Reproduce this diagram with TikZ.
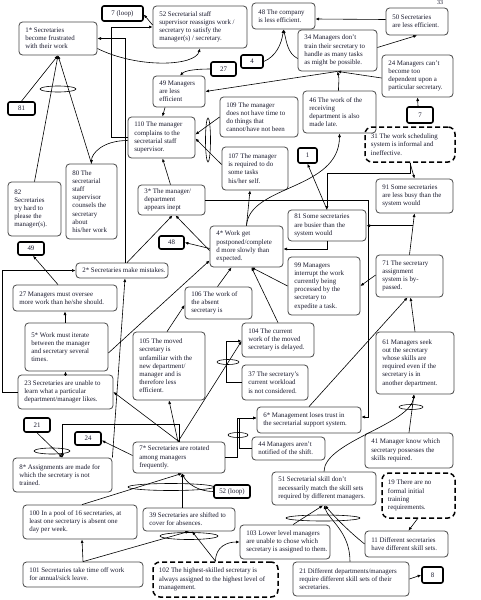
\documentclass[tikz,border=0pt]{standalone}
\usepackage{fontspec}
\setmainfont{Liberation Serif}
\usetikzlibrary{arrows.meta,calc,shapes.geometric}
\definecolor{boxc}{RGB}{70,70,70}
\definecolor{txt}{RGB}{25,25,45}
\newcommand\fs{\fontsize{6.9}{8.2}\selectfont}
\newcommand\bx[7][box]{%
  \pgfmathsetmacro\bxw{#5-#3}%
  \pgfmathsetmacro\bxh{#6-#4}%
  \pgfmathsetmacro\bxcx{(#3+#5)/2}%
  \pgfmathsetmacro\bxcy{(#4+#6)/2}%
  \node[#1,minimum width=\bxw pt,minimum height=\bxh pt] (#2) at (\bxcx,\bxcy) {};
  \node[txtst] (#2t) at ([xshift=6.5pt]#2.west) {#7};}
\newcommand\lb[6]{%
  \pgfmathsetmacro\bxw{#4-#2}%
  \pgfmathsetmacro\bxh{#5-#3}%
  \pgfmathsetmacro\bxcx{(#2+#4)/2}%
  \pgfmathsetmacro\bxcy{(#3+#5)/2}%
  \node[lab,minimum width=\bxw pt,minimum height=\bxh pt] (#1) at (\bxcx,\bxcy) {#6};}
\begin{document}
\begin{tikzpicture}[x=1pt,y=-1pt,
  box/.style={draw=boxc, line width=0.8pt, rounded corners=3.5pt, inner sep=0pt},
  txtst/.style={anchor=west, align=left, inner sep=0pt, font=\fs, text=txt},
  lab/.style={draw=black, line width=1.6pt, rounded corners=2pt, align=center, font=\fs, inner sep=0pt, text=txt},
  dbox/.style={box, draw=black, line width=1.5pt, dash pattern=on 5pt off 3pt, rounded corners=7pt},
  arr/.style={draw=black, line width=0.6pt, -{Latex[length=3.6pt,width=3pt]}},
  grp/.style={draw=black, line width=0.6pt, ellipse, inner sep=0pt}]
\useasboundingbox (0,0) rectangle (481,600);
\node[font=\fontsize{6}{7}\selectfont, text=txt, inner sep=0pt, anchor=north] (pg) at (440,0.5) {33};
% boxes
\lb{l7loop}{102}{6}{143}{21}{7 (loop)}
\bx{n52}{153}{6}{247}{48}{52 Secretarial staff\\supervisor reassigns work /\\secretary to satisfy the\\manager(s) / secretary.}
\bx{n48}{252}{3}{315}{29}{48 The company\\is less efficient.}
\bx{n50}{386}{8}{448}{35}{50 Secretaries\\are less efficient.}
\bx{n1s}{19}{22}{97}{55}{1* Secretaries\\become frustrated\\with their work}
\bx{n34}{298}{30}{377}{71}{34 Managers don't\\train their secretary to\\handle as many tasks\\as might be possible.}
\lb{l4}{241}{55}{263}{68}{4}
\lb{l27}{211}{62}{236}{76}{27}
\bx{n24}{382}{55}{453}{97}{24 Managers can't\\become too\\dependent upon a\\particular secretary.}
\bx{n49}{153}{76}{205}{107}{49 Managers\\are less\\efficient}
\lb{l81}{8}{102}{35}{115}{81}
\bx{n109}{220}{97}{298}{137}{109 The manager\\does not have time to\\do things that\\cannot/have not been}
\bx{n46}{303}{91}{376}{133}{46 The work of the\\receiving\\department is also\\made late.}
\lb{l7}{407}{107}{433}{123}{7}
\bx{n110}{128}{117}{195}{158}{110 The manager\\complains to the\\secretarial staff\\supervisor.}
\bx[dbox]{n31}{365}{127}{455}{162}{31 The work scheduling\\system is informal and\\ineffective.}
\bx{n107}{222}{147}{288}{190}{107 The manager\\is required to do\\some tasks\\his/her self.}
\lb{l1}{298}{148}{317}{163}{1}
\bx{n80}{66}{164}{117}{239}{80 The\\secretarial\\staff\\supervisor\\counsels the\\secretary\\about\\his/her work}
\bx{n82}{8}{182}{61}{236}{82\\Secretaries\\try hard to\\please the\\manager(s).}
\bx{n3s}{138}{185}{205}{215}{3* The manager/\\department\\appears inept}
\bx{n91}{376}{179}{453}{213}{91 Some secretaries\\are less busy than the\\system would}
\bx{n81}{288}{210}{366}{241}{81 Some secretaries\\are busier than the\\system would}
\bx{n4s}{210}{226}{283}{267}{4* Work get\\postponed/complete\\d more slowly than\\expected.}
\lb{l48}{159}{236}{184}{249}{48}
\lb{l49}{18}{242}{44}{255}{49}
\bx{n71}{376}{255}{443}{297}{71 The secretary\\assignment\\system is by-\\passed.}
\bx{n99}{288}{257}{360}{315}{99 Managers\\interrupt the work\\currently being\\processed by the\\secretary to\\expedite a task.}
\bx{n2s}{76}{263}{168}{278}{2* Secretaries make mistakes.}
\bx{n27}{13}{285}{117}{311}{27 Managers must oversee\\more work than he/she should.}
\bx{n106}{185}{287}{252}{319}{106 The work of\\the absent\\secretary is}
\bx{n5s}{25}{323}{108}{371}{5* Work must iterate\\between the manager\\and secretary several\\times.}
\bx{n104}{242}{323}{314}{357}{104 The current\\work of the moved\\secretary is delayed.}
\bx{n105}{133}{332}{205}{400}{105 The moved\\secretary is\\unfamiliar with the\\new department/\\manager and is\\therefore less\\efficient.}
\bx{n61}{376}{332}{454}{394}{61 Managers seek\\out the secretary\\whose skills are\\required even if the\\secretary is in\\another department.}
\bx{n37}{242}{365}{308}{400}{37 The secretary's\\current workload\\is not considered.}
\bx{n23}{18}{375}{113}{409}{23 Secretaries are unable to\\learn what a particular\\department/manager likes.}
\bx{n6s}{257}{407}{361}{433}{6* Management loses trust in\\the secretarial support system.}
\lb{l21}{24}{418}{50}{432}{21}
\lb{l24}{75}{432}{101}{445}{24}
\bx{n41}{365}{433}{453}{468}{41 Manager know which\\secretary possesses the\\skills required.}
\bx{n44}{252}{437}{325}{460}{44 Managers aren't\\notified of the shift.}
\bx{n7s}{133}{442}{225}{473}{7* Secretaries are rotated\\among managers\\frequently.}
\bx{n8s}{13}{458}{112}{492}{8* Assignments are made for\\which the secretary is not\\trained.}
\bx{n51}{272}{472}{376}{505}{51 Secretarial skill don't\\necessarily match the skill sets\\required by different managers.}
\bx[dbox]{n19}{382}{473}{455}{518}{19 There are no\\formal initial\\training\\requirements.}
\lb{l52}{214}{485}{250}{498}{52 (loop)}
\bx{n100}{23}{505}{137}{539}{100 In a pool of 16 secretaries, at\\least one secretary is absent one\\day per week.}
\bx{n39}{143}{508}{235}{531}{39 Secretaries are shifted to\\cover for absences.}
\bx{n103}{240}{525}{330}{559}{103 Lower level managers\\are unable to chose which\\secretary is assigned to them.}
\bx{n11}{365}{531}{448}{557}{11 Different secretaries\\have different skill sets.}
\bx{n101}{23}{562}{143}{587}{101 Secretaries take time off work\\for annual/sick leave.}
\bx[dbox]{n102}{153}{562}{278}{597}{102 The highest-skilled secretary is\\always assigned to the highest level of\\management.}
\bx{n21}{293}{562}{409}{596}{21 Different departments/managers\\require different skill sets of their\\secretaries.}
\lb{l8}{422}{567}{443}{583}{8}
% group ellipses
\node[grp, minimum width=36pt, minimum height=6pt] (e1) at (58,89) {};
\node[grp, minimum width=5pt, minimum height=44pt] (e2) at (208,140) {};
\node[grp, minimum width=22pt, minimum height=5pt] (e3) at (228,362) {};
\node[grp, minimum width=36pt, minimum height=6pt] (e4) at (52,451) {};
\node[grp, minimum width=20pt, minimum height=5pt] (e5) at (238,435) {};
\node[grp, minimum width=24pt, minimum height=5pt] (e6) at (411,407) {};
\node[grp, minimum width=74pt, minimum height=6pt] (e7) at (323,518) {};
\node[grp, minimum width=58pt, minimum height=7pt] (e8) at (189,536) {};
\node[grp, minimum width=86pt, minimum height=7pt] (e9) at (171,487) {};
% connectors
\draw[arr] ([yshift=2pt]n52.west) -- ([yshift=-1pt]l7loop.east);
\draw[arr] (n110.west) -- ++(-16,0) |- (n52.west);
\draw[arr] ([xshift=3pt]n2s.north) |- (n1s.east);
\draw[arr] ([yshift=-10pt]n1s.east) .. controls +(40,20) and +(-5,18) .. (n52.south);
\draw[arr] (n82.north) -- (n1s.south);
\draw[arr] (n80.north) -- (n1s.south);
\draw[arr] (l81.north) -- (n1s.south);
\draw[arr] ([yshift=-3pt]n110.west) .. controls +(-25,0) and +(0,-10) .. (n80.north);
\draw[arr] ([xshift=-14pt]n49.south) -- ([xshift=1pt]n110.north);
\draw[arr] (n109.west) -- ([yshift=3pt]n110.east);
\draw[arr] ([yshift=4pt]n107.west) -- ([yshift=-1pt]n110.east);
\draw[arr] ([xshift=-1pt]n3s.north) -- ([xshift=1pt]n110.south);
\draw[arr] ([yshift=2pt]n50.west) -- ([yshift=-3pt]n48.east);
\draw[arr] ([yshift=3pt]n34.east) -- (n50.south);
\draw[arr] ([yshift=-2pt]n24.west) -- (n34.south);
\draw[arr] (n34.south) -- (n49.east);
\draw[arr] ([xshift=-1pt]n46.north) .. controls +(0,-8) and +(2,8) .. (n34.south);
\draw[arr] ([yshift=-8pt]n34.west) .. controls +(-10,-5) and +(3,12) .. (n48.south);
\draw[arr] (l4.east) .. controls +(12,-5) and +(-2,15) .. (n48.south);
\draw[arr] (l27.west) .. controls +(-15,0) and +(5,-5) .. ([xshift=1pt]n49.north);
\draw[arr] ([xshift=-2pt]l7.north) -- (n24.south);
\draw[arr] (n31.south) -- (n91.north);
\draw[arr] (n31.south) -- ++(0,11) -| (n81.north);
\draw[arr] (n81.north) -- (l1.south);
\draw[arr] (n4s.north) .. controls +(3,-41) and +(0,57) .. (n46.south);
\draw[arr] (n71.north) -- (n91.south);
\coordinate (j71) at ($(n71.north)!0.7!(n91.south)$);
\draw[arr] (j71) -- (j71 -| n81.east);
\draw[arr] (n81.south) |- ([yshift=-2.5pt]n4s.east);
\draw[arr] (n3s.east) -| ([xshift=7pt,yshift=3pt]n6s.east) -- ([yshift=3pt]n6s.east);
\draw[arr] ([yshift=1pt]n71.west) -- (n99.east);
\draw[arr] ([xshift=5pt]n2s.north) -- ([xshift=1pt]n3s.south);
\draw[arr] ([yshift=-4pt]n4s.west) -- ([xshift=4pt]n3s.south);
\draw[arr] ([yshift=-2pt]n4s.west) -- (l48.east);
\draw[arr] (n4s.north) -- ([xshift=-5pt]n107.south);
\draw[arr] ([yshift=-6pt]n5s.east) -- ([yshift=-14pt]n4s.west);
\draw[arr] ([xshift=-1pt]n106.north) -- ([xshift=-15pt]n4s.south);
\draw[arr] (n104.north) -- ([xshift=5pt]n4s.south);
\draw[arr] (n99.west) -- ([xshift=5pt]n4s.south);
\draw[arr] ([xshift=-2pt]n105.north) -- ([yshift=-2pt]n106.west);
\draw[arr] ([xshift=-7pt]n27.north) -- ([xshift=2pt]l49.south);
\draw[arr] (n23.west) -- ++(-15,0) |- (n2s.west);
\draw[arr] (n8s.north east) -- ([xshift=3pt]n2s.south);
\draw[arr] ([xshift=-1.5pt]n5s.north) -- (n27.south);
\draw[arr] (n23.north) -- ([xshift=-1pt]n5s.south);
\draw[arr] (n7s.north) -- (n23.east);
\draw[arr] ([xshift=-1pt]n7s.north) -- (n105.south);
\draw[arr] ([xshift=-1pt]n7s.north) -- ([yshift=-1pt]n104.west);
\draw[arr] (n37.west) -- ++(-15,0) |- ([yshift=-1pt]n104.west);
\draw[arr] (n7s.north) -- ++(0,-17) -| (n8s.north);
\draw[arr] (l21.south) -- (n8s.north);
\draw[arr] ([yshift=2pt]n7s.west) -- ([yshift=-2pt]l24.east);
\draw[arr] (n7s.east) -- ++(12,0) |- ([yshift=2pt]n6s.west);
\draw[arr] (n44.west) -- ++(-12,0) |- ([yshift=2pt]n6s.west);
\draw[arr] (n6s.north) -- ([xshift=-2pt]n71.south);
\draw[arr] (n61.north) -- ([xshift=1pt]n71.south);
\draw[arr] (n41.north) -- ([xshift=-1pt]n61.south);
\draw[arr] (n51.north) .. controls +(0,-30) and +(-3,30) .. ([xshift=-1pt]n61.south);
\draw[arr] ([xshift=-1pt]n19.south) -- ([xshift=2pt]n11.north);
\draw[arr] (n11.west) .. controls +(-15,-12) and +(10,12) .. ([xshift=1pt]n51.south);
\draw[arr] ([xshift=-1pt]n21.north) .. controls +(0,-30) and +(5,15) .. (n51.south);
\draw[arr] ([xshift=8pt]n103.north) -- ([xshift=-1pt]n51.south);
\draw[arr] (n21.east) -- (l8.west);
\draw[arr] (n102.north) .. controls +(0,-15) and +(-12,0) .. (n103.west);
\draw[arr] (n102.north) -- ([xshift=3pt]n39.south);
\draw[arr] (n101.north) -- (n39.south);
\draw[arr] (n101.north) -- ([xshift=2pt]n100.south);
\draw[arr] ([xshift=2pt]n100.north) -- ([xshift=3pt]n7s.south);
\draw[arr] ([xshift=-7pt]n39.north) -- ([xshift=3pt]n7s.south);
\draw[arr] (l52.west) .. controls +(-15,0) and +(5,10) .. ([xshift=3pt]n7s.south);
\end{tikzpicture}
\end{document}
